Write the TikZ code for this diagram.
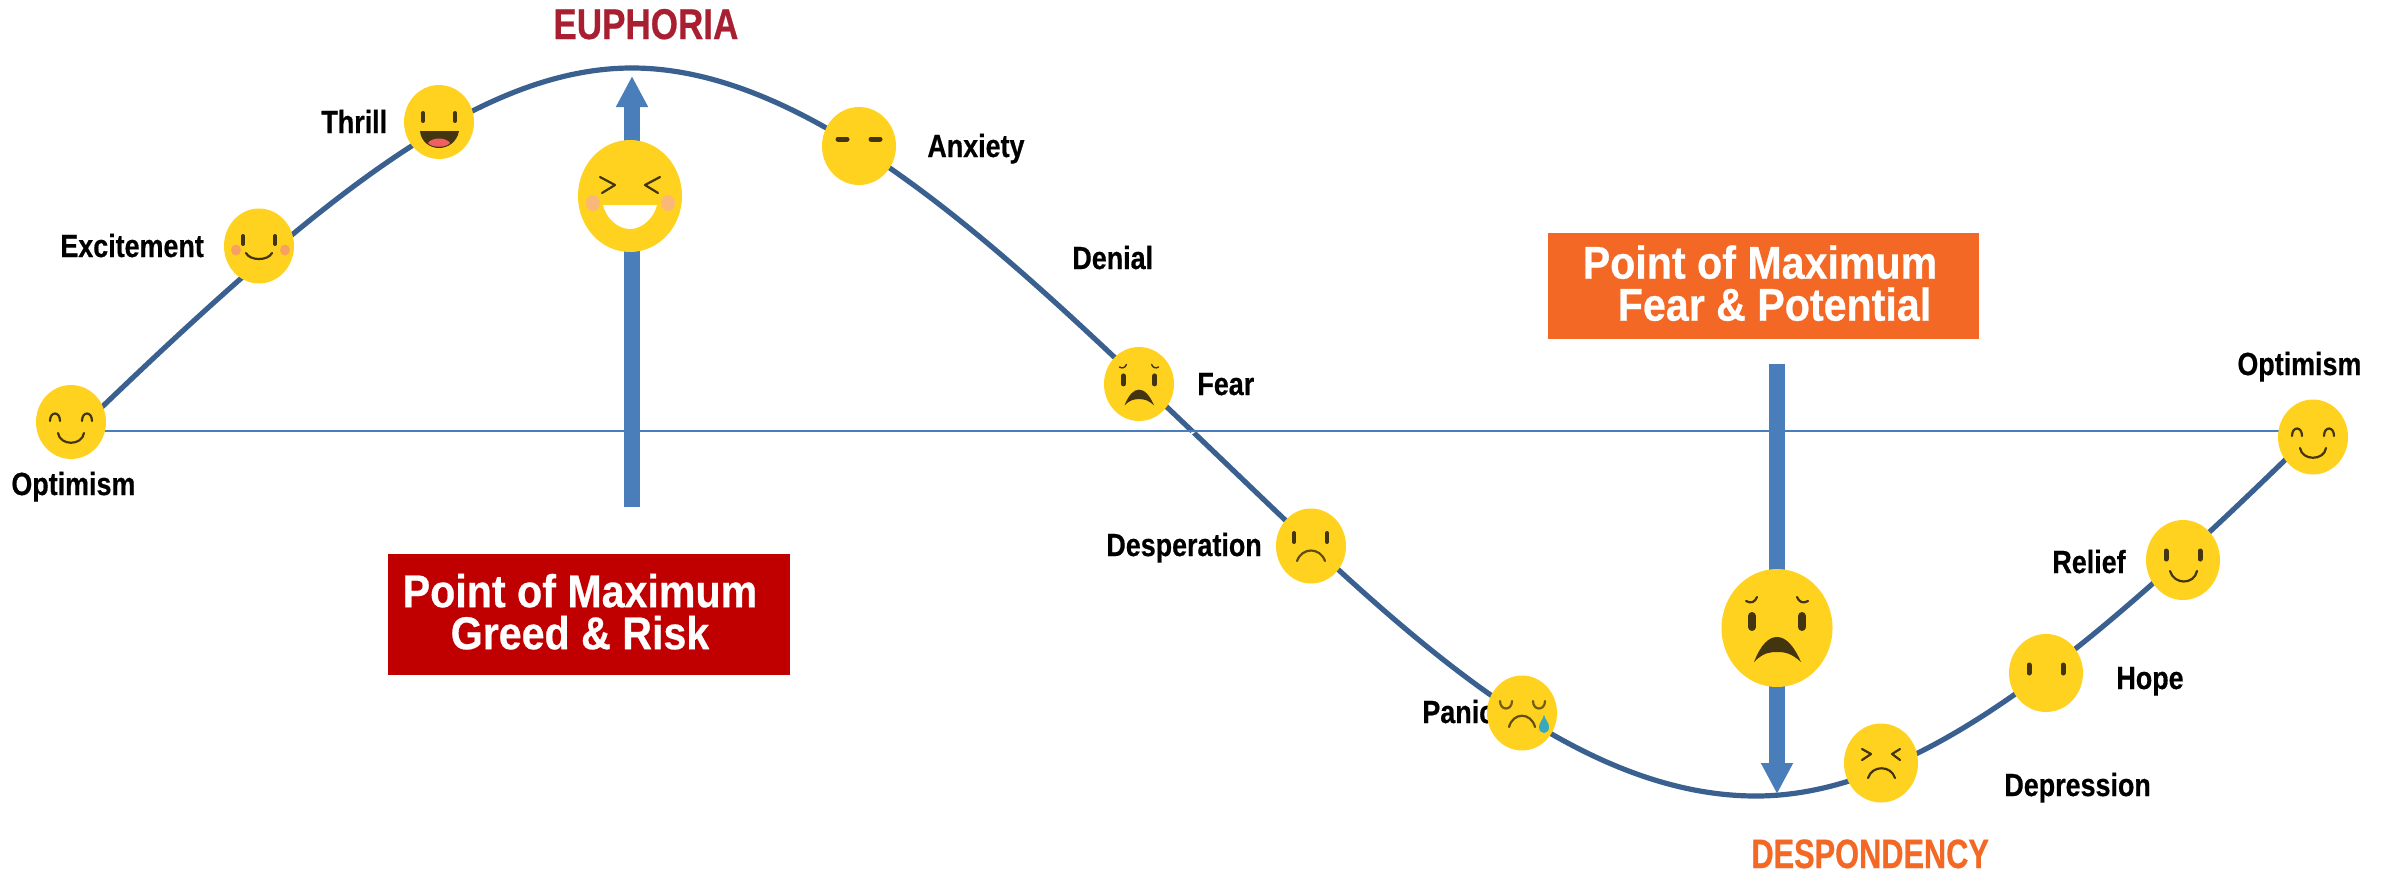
\documentclass[tikz,border=0pt]{standalone}
\usepackage{fontspec}
\usetikzlibrary{shapes.geometric,arrows.meta}
\newfontfamily\lblfont[FakeStretch=0.84,BoldFeatures={FakeBold=0.5}]{Liberation Sans}
\newfontfamily\ttlfont[FakeStretch=0.815,BoldFeatures={FakeBold=0.5}]{Liberation Sans}
\newfontfamily\ttmfont[FakeStretch=0.75,BoldFeatures={FakeBold=0.5}]{Liberation Sans}
\newfontfamily\boxfont[FakeStretch=0.895,BoldFeatures={FakeBold=0.5}]{Liberation Sans}
\definecolor{faceY}{HTML}{FFD220}
\definecolor{faceD}{HTML}{43350F}
\definecolor{curveB}{HTML}{3A6090}
\definecolor{arrowB}{HTML}{4A7EBB}
\definecolor{redbox}{HTML}{C00000}
\definecolor{orgbox}{HTML}{F36824}
\definecolor{eupho}{HTML}{A91F32}
\definecolor{cheekA}{HTML}{F9B877}
\definecolor{cheekB}{HTML}{F8A060}
\definecolor{tongue}{HTML}{EF5F60}
\definecolor{tear}{HTML}{36A8C0}
\tikzset{
  face/.style={ellipse,fill=faceY,inner sep=0pt},
  lbl/.style={anchor=base west,inner sep=0pt,font=\lblfont\bfseries\fontsize{16}{18}\selectfont,text=black},
  ttl/.style={anchor=base west,inner sep=0pt,font=\ttlfont\bfseries\fontsize{21.5}{24}\selectfont},
  ttm/.style={anchor=base west,inner sep=0pt,font=\ttmfont\bfseries\fontsize{20.5}{22}\selectfont},
  bigbox/.style={rectangle,inner sep=0pt,align=center,text=white,font=\boxfont\bfseries\fontsize{23}{21}\selectfont},
  curveline/.style={draw=curveB,line width=2.6pt,line join=round},
  axisline/.style={draw=arrowB,line width=1pt},
  bigarrow/.style={draw=arrowB,line width=8pt,-{Triangle[width=15pt,length=15.5pt,fill=arrowB]}},
  fline/.style={draw=faceD,line width=1.1pt,line cap=round,line join=round},
  fbar/.style={draw=faceD,line width=2.5pt,line cap=round},
}
\begin{document}
\begin{tikzpicture}[x=0.5pt,y=-0.5pt]
\path[use as bounding box,fill=white] (0,0) rectangle (2387,873);
% free ends
\coordinate (curveS) at (90,419);
\coordinate (curveE) at (2300,446);
\coordinate (axisL) at (80,431);
\coordinate (axisR) at (2300,431);
\coordinate (upS) at (632,507);
\coordinate (upE) at (632,76);
\coordinate (downS) at (1777,364);
\coordinate (downE) at (1777,794);
% curve
\draw[curveline] (curveS) -- (102,407) .. controls (320,198) and (480,68) .. (632,68)
  .. controls (820,68) and (1021,268.5) .. (1191,430)
  .. controls (1371,601) and (1556,796) .. (1756,796)
  .. controls (1916,796) and (2085,654) .. (2285,460) -- (curveE);
\draw[white,line width=1pt] (1187,437) -- (1196,430);
\draw[axisline] (axisL) -- (axisR);
\draw[bigarrow] (upS) -- (upE);
\draw[bigarrow] (downS) -- (downE);
% labels
\node[lbl] (lOptL) at (11,495) {Optimism};
\node[lbl] (lExc) at (60,257) {Excitement};
\node[lbl] (lThr) at (321,133) {Thrill};
\node[lbl] (lAnx) at (927,157) {Anxiety};
\node[lbl] (lDen) at (1072,269) {Denial};
\node[lbl] (lFear) at (1197,395) {Fear};
\node[lbl] (lDes) at (1106,556) {Desperation};
\node[lbl] (lPan) at (1422,723) {Panic};
\node[lbl] (lOptR) at (2237,375) {Optimism};
\node[lbl] (lRel) at (2052,573) {Relief};
\node[lbl] (lHope) at (2116,689) {Hope};
\node[lbl] (lDep) at (2004,796) {Depression};
\node[ttl,text=eupho] (tEup) at (553,39) {EUPHORIA};
\node[ttm,text=orgbox] (tDes) at (1751,868) {DESPONDENCY};
% boxes
\node[bigbox,fill=redbox,minimum width=201pt,minimum height=60.5pt] (bGreed) at (589,614.5) {Point of Maximum\hspace*{9pt}\\Greed \& Risk\hspace*{9pt}\rule[-3pt]{0pt}{3pt}};
\node[bigbox,fill=orgbox,minimum width=215.5pt,minimum height=53pt] (bFear) at (1763.5,286) {Point of Maximum\hspace*{3.5pt}\\\hspace*{11pt}Fear \& Potential\rule[-3pt]{0pt}{3pt}};
% faces
\node[face,minimum width=35pt,minimum height=37pt] (fOptL) at (71,422) {};
\node[face,minimum width=35pt,minimum height=37.5pt] (fExc) at (259,246) {};
\node[face,minimum width=35pt,minimum height=37pt] (fThr) at (439,122) {};
\node[face,minimum width=52pt,minimum height=56pt] (fEup) at (630,196) {};
\node[face,minimum width=37pt,minimum height=39pt] (fAnx) at (859,146) {};
\node[face,minimum width=35pt,minimum height=37pt] (fFear) at (1139,384) {};
\node[face,minimum width=35pt,minimum height=37.5pt] (fDes) at (1311,546) {};
\node[face,minimum width=35pt,minimum height=37.5pt] (fPan) at (1522,713) {};
\node[face,minimum width=55.5pt,minimum height=59pt] (fBig) at (1777,628) {};
\node[face,minimum width=37pt,minimum height=39.5pt] (fDep) at (1881,763) {};
\node[face,minimum width=37pt,minimum height=39pt] (fHope) at (2046,673) {};
\node[face,minimum width=37pt,minimum height=40pt] (fRel) at (2183,560) {};
\node[face,minimum width=35pt,minimum height=37.5pt] (fOptR) at (2313,437) {};
% Optimism left
\begin{scope}[shift={(fOptL.center)}]
\draw[fline] (-21,-1) .. controls (-21,-11) and (-11,-11) .. (-11,-1);
\draw[fline] (11,-1) .. controls (11,-11) and (21,-11) .. (21,-1);
\draw[fline] (-13,11) .. controls (-11,24) and (11,24) .. (13,11);
\end{scope}
% Optimism right
\begin{scope}[shift={(fOptR.center)}]
\draw[fline] (-21,-1) .. controls (-21,-11) and (-11,-11) .. (-11,-1);
\draw[fline] (11,-1) .. controls (11,-11) and (21,-11) .. (21,-1);
\draw[fline] (-13,11) .. controls (-11,24) and (11,24) .. (13,11);
\end{scope}
% Excitement
\begin{scope}[shift={(fExc.center)}]
\fill[cheekB] (-23,4) ellipse (5 and 5.5);
\fill[cheekB] (26,4) ellipse (5 and 5.5);
\draw[fbar,line width=2pt] (-16,-10) -- (-16,-2);
\draw[fbar,line width=2pt] (16,-10) -- (16,-2);
\draw[fline] (-13,7) .. controls (-9,15) and (9,15) .. (13,7);
\end{scope}
% Thrill
\begin{scope}[shift={(fThr.center)}]
\draw[fbar,line width=2pt] (-16,-9) -- (-16,-1);
\draw[fbar,line width=2pt] (16,-9) -- (16,-1);
\fill[faceD] (-19,9) -- (20,9) .. controls (18,20) and (9,26) .. (0,26) .. controls (-9,26) and (-18,20) .. (-19,9) -- cycle;
\fill[tongue] (-11,21) .. controls (-7,15) and (7,15) .. (11,21) .. controls (7,26) and (-7,26) .. (-11,21) -- cycle;
\end{scope}
% Euphoria big face
\begin{scope}[shift={(fEup.center)}]
\fill[cheekA] (-37,7) ellipse (7 and 8);
\fill[cheekA] (38,7) ellipse (7 and 8);
\draw[fline] (-30,-19) -- (-15,-11) -- (-28,-3);
\draw[fline] (30,-19) -- (15,-11) -- (28,-3);
\fill[white] (-27,9) -- (27,9) .. controls (24,22) and (12,33) .. (0,33) .. controls (-12,33) and (-24,22) .. (-27,9) -- cycle;
\end{scope}
% Anxiety
\begin{scope}[shift={(fAnx.center)}]
\draw[fbar,line width=2.5pt] (-21,-7) -- (-12,-7);
\draw[fbar,line width=2.5pt] (12,-7) -- (21,-7);
\end{scope}
% Fear small
\begin{scope}[shift={(fFear.center)},scale=0.63]
\draw[fline,line width=.7pt] (-31,-27) .. controls (-26,-24) and (-22,-26) .. (-20,-31);
\draw[fline,line width=.7pt] (20,-31) .. controls (22,-26) and (26,-24) .. (31,-27);
\draw[fbar,line width=2.4pt] (-25,-13) -- (-25,0);
\draw[fbar,line width=2.4pt] (25,-13) -- (25,0);
\fill[faceD] (-23,34) .. controls (-16,16) and (-8,9) .. (0,9) .. controls (8,9) and (16,16) .. (24,34) .. controls (14,25) and (8,24) .. (0,24) .. controls (-8,24) and (-14,25) .. (-23,34) -- cycle;
\end{scope}
% Desperation
\begin{scope}[shift={(fDes.center)}]
\draw[fbar,line width=2pt] (-17,-13) -- (-17,-4);
\draw[fbar,line width=2pt] (16,-13) -- (16,-4);
\draw[fline,draw=faceD!85!faceY] (-14,15) .. controls (-9,1) and (9,1) .. (14,15);
\end{scope}
% Panic
\begin{scope}[shift={(fPan.center)}]
\draw[fline,draw=faceD!75!faceY] (-22,-12) .. controls (-22,-2) and (-10,-2) .. (-10,-12);
\draw[fline,draw=faceD!75!faceY] (11,-12) .. controls (11,-2) and (23,-2) .. (23,-12);
\draw[fline,draw=faceD!85!faceY] (-13,14) .. controls (-9,-1) and (9,-1) .. (13,14);
\fill[tear] (22,2) .. controls (24,8) and (27,10) .. (27,14) .. controls (27,22) and (17,22) .. (17,14) .. controls (17,10) and (20,8) .. (22,2) -- cycle;
\end{scope}
% Big fear
\begin{scope}[shift={(fBig.center)}]
\draw[fline] (-31,-27) .. controls (-26,-24) and (-22,-26) .. (-20,-31);
\draw[fline] (20,-31) .. controls (22,-26) and (26,-24) .. (31,-27);
\draw[fbar,line width=4pt] (-25,-12) -- (-25,-1);
\draw[fbar,line width=4pt] (25,-12) -- (25,-1);
\fill[faceD] (-23,34) .. controls (-16,16) and (-8,9) .. (0,9) .. controls (8,9) and (16,16) .. (24,34) .. controls (14,25) and (8,24) .. (0,24) .. controls (-8,24) and (-14,25) .. (-23,34) -- cycle;
\end{scope}
% Depression
\begin{scope}[shift={(fDep.center)}]
\draw[fline] (-19,-14) -- (-10,-9) -- (-19,-3);
\draw[fline] (19,-14) -- (11,-9) -- (19,-3);
\draw[fline] (-13,15) .. controls (-9,2) and (10,2) .. (14,15);
\end{scope}
% Hope
\begin{scope}[shift={(fHope.center)}]
\draw[fbar] (-17,-8) -- (-17,0);
\draw[fbar] (17,-8) -- (17,0);
\end{scope}
% Relief
\begin{scope}[shift={(fRel.center)}]
\draw[fbar] (-17,-9) -- (-17,-1);
\draw[fbar] (17,-9) -- (17,-1);
\draw[fline] (-13,11) .. controls (-9,25) and (11,25) .. (14,11);
\end{scope}
\end{tikzpicture}
\end{document}
